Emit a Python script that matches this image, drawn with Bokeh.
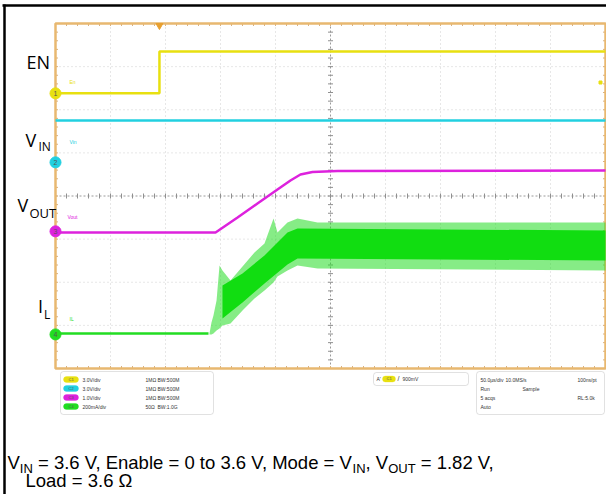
from bokeh.plotting import figure
from bokeh.models import Range1d, Label, BoxAnnotation
from bokeh.embed import file_html
from bokeh.resources import INLINE

# ---------------- data (time in µs, 50 µs/div; amplitude in screen divisions 0..8) -------------
en_t = [0, 94.5, 94.5, 500]
en_v = [6.38, 6.38, 7.35, 7.35]

vin_t = [0, 500]
vin_v = [5.75, 5.75]

vout_t = [0, 145.5, 165.5, 183.6, 201.8, 213.6, 222.7, 233.6, 256.4, 500]
vout_v = [3.154, 3.154, 3.501, 3.826, 4.151, 4.359, 4.499, 4.557, 4.580, 4.591]

il_t = [0, 139.1]
il_v = [0.812, 0.812]
il_band_t = [140.0, 141.8, 143.6, 146.4, 149.1, 151.8, 159.1, 170.0, 180.9, 190.0, 198.2, 201.8, 210.9, 220.0, 238.2, 500]
il_band_hi = [0.812, 1.067, 1.229, 1.577, 2.388, 2.272, 2.041, 2.365, 2.690, 2.899, 3.478, 3.154, 3.386, 3.478, 3.386, 3.386]
il_band_lo = [0.788, 0.788, 0.812, 0.881, 0.928, 0.997, 1.043, 1.345, 1.623, 1.809, 1.994, 2.133, 2.272, 2.388, 2.319, 2.272]
il_core_t = [151.8, 170.0, 190.0, 210.9, 220.0, 500]
il_core_hi = [1.925, 2.203, 2.620, 3.154, 3.246, 3.200]
il_core_lo = [1.159, 1.530, 1.971, 2.412, 2.551, 2.504]

gnd_v = [6.38, 4.78, 3.18, 0.79]
ch_colors = ["#e8e010", "#22d0e0", "#dd22dd", "#22dd22"]
ch_names = ["1", "2", "3", "4"]
ch_tags = ["En", "Vin", "Vout", "IL"]
ch_scale = ["3.0V/div", "3.0V/div", "1.0V/div", "200mA/div"]
ch_imp = ["1MΩ", "1MΩ", "1MΩ", "50Ω"]
ch_bw = ["BW:500M", "BW:500M", "BW:500M", "BW:1.0G"]
trig_text = "900mV"
acq_rows = [["50.0µs/div", "10.0MS/s", "100ns/pt"], ["Run", "Sample", ""], ["5 acqs", "", "RL:5.0k"], ["Auto", "", ""]]

# ---------------- geometry helpers (reference pixel -> data units) ----------------
OX = 3  # horizontal shift so the whole scope frame fits in the 606 px figure

def X(xr):
    return (xr - 58) / 55 * 50

def Y(yr):
    return (368 - yr) / 43.125

p = figure(width=606, height=494, output_backend="svg", toolbar_location=None,
           x_range=Range1d(X(OX), X(OX + 606)), y_range=Range1d(Y(494), Y(0)),
           x_axis_location=None, y_axis_location=None, min_border=0,
           outline_line_color=None, background_fill_color="white")
p.xgrid.visible = False
p.ygrid.visible = False

# outer black frame lines (top and left)
p.segment(x0=[X(5), X(7)], y0=[Y(5), Y(4)], x1=[X(620), X(7)], y1=[Y(5), Y(500)],
          line_color="black", line_width=2.5)

# ---------------- scope graticule ----------------
gx = [50 * i for i in range(1, 10) if i != 5]
gy = [i for i in range(1, 8) if i != 4]
p.segment(x0=gx, y0=[0] * len(gx), x1=gx, y1=[8] * len(gx), line_color="#cfcfcf", line_dash="1 3", line_width=1)
p.segment(x0=[0] * len(gy), y0=gy, x1=[500] * len(gy), y1=gy, line_color="#cfcfcf", line_dash="1 3", line_width=1)
p.segment(x0=[250, 0], y0=[0, 4], x1=[250, 500], y1=[8, 4], line_color="#9a9a9a", line_dash="2 2", line_width=1)

tx = [10 * i for i in range(1, 50)]
ty = [0.2 * i for i in range(1, 40)]
dxp = 2.5 / 55 * 50
dyp = 2.5 / 43.125
# ticks on centre lines
p.segment(x0=tx, y0=[4 - dyp] * len(tx), x1=tx, y1=[4 + dyp] * len(tx), line_color="#909090", line_width=1)
p.segment(x0=[250 - dxp] * len(ty), y0=ty, x1=[250 + dxp] * len(ty), y1=ty, line_color="#909090", line_width=1)
# ticks on frame edges
p.segment(x0=tx, y0=[8] * len(tx), x1=tx, y1=[8 - dyp] * len(tx), line_color="#d8b080", line_width=1)
p.segment(x0=tx, y0=[0] * len(tx), x1=tx, y1=[dyp] * len(tx), line_color="#d8b080", line_width=1)
p.segment(x0=[0] * len(ty), y0=ty, x1=[dxp] * len(ty), y1=ty, line_color="#d8b080", line_width=1)
p.segment(x0=[500] * len(ty), y0=ty, x1=[500 - dxp] * len(ty), y1=ty, line_color="#d8b080", line_width=1)
p.quad(left=[0], right=[500], bottom=[0], top=[8], fill_color=None, line_color="#e8b870", line_width=2.5)

# ---------------- traces ----------------
p.varea(x=il_band_t, y1=il_band_lo, y2=il_band_hi, fill_color="#22dd22", fill_alpha=0.55)
p.varea(x=il_core_t, y1=il_core_lo, y2=il_core_hi, fill_color="#11dd11", fill_alpha=1.0)
p.line(il_t, il_v, line_color=ch_colors[3], line_width=2.5)
p.line(vout_t, vout_v, line_color=ch_colors[2], line_width=2.5)
p.line(vin_t, vin_v, line_color=ch_colors[1], line_width=2.5)
p.line(en_t, en_v, line_color=ch_colors[0], line_width=2.5)

# ground markers
p.scatter(x=[0] * 4, y=gnd_v, size=11, fill_color=ch_colors, line_color=ch_colors, marker="circle")
for v, n in zip(gnd_v, ch_names):
    p.add_layout(Label(x=0, y=v, text=n, text_font="Liberation Sans", text_font_size="7px",
                       text_color="#555555", text_align="center", text_baseline="middle"))
# small tags near markers
tag_pos = [(72, 81), (72, 141), (70, 216), (72, 318)]
for (xr, yr), tg, c in zip(tag_pos, ch_tags, ch_colors):
    p.add_layout(Label(x=X(xr), y=Y(yr), text=tg, text_font="Liberation Sans", text_font_size="5px",
                       text_color=c, text_baseline="middle"))

# trigger markers
p.scatter(x=[en_t[1]], y=[Y(25)], marker="inverted_triangle", size=7, color="#e8a030")
p.scatter(x=[X(603)], y=[Y(82)], marker="square", size=3, color=ch_colors[0])

# ---------------- text helper (yr = wanted baseline in reference pixels) ----------------
LF = "Open Sans"
KOFF = {"Open Sans": 0.48, "Liberation Sans": 0.39}
def lab(xr, yr, t, size, color="black", font=LF, align="left"):
    px = float(size.replace("px", ""))
    p.add_layout(Label(x=X(xr), y=Y(yr - KOFF[font] * px), text=t, text_font=font, text_font_size=size,
                       text_color=color, text_baseline="alphabetic", text_align=align))

lab(29, 70, "EN", "18px")
lab(28, 148, "V", "18px")
lab(41, 151.5, "IN", "12px")
lab(20, 213, "V", "18px")
lab(32, 219, "OUT", "13px")
lab(40.5, 314, "I", "18px")
lab(46.5, 319.5, "L", "12px")

# ---------------- info boxes ----------------
def box(l, r, t, b, col="white", line="#9a9a9a", rad=3, lw=1):
    p.add_layout(BoxAnnotation(left=X(l), right=X(r), top=Y(t), bottom=Y(b), fill_color=col, fill_alpha=1,
                               line_color=line, line_width=lw, border_radius=rad))

box(63, 216, 371, 414)
box(376, 471, 372, 385)
box(479, 607, 371, 414)
rows = [379, 388, 397, 406]
for i, yr in enumerate(rows):
    box(66, 81, yr - 3, yr + 3, col=ch_colors[i], line=ch_colors[i], rad=3)
    lab(71, yr + 1.5, "C" + ch_names[i], "4px", color="#555555", font="Liberation Sans")
    lab(85, yr + 2, ch_scale[i], "5px", color="#333333", font="Liberation Sans")
    lab(148, yr + 2, ch_imp[i], "5px", color="#333333", font="Liberation Sans")
    lab(160, yr + 2, ch_bw[i], "5px", color="#333333", font="Liberation Sans")
box(385, 398, 375.5, 381.5, col=ch_colors[0], line=ch_colors[0], rad=3)
lab(379, 380.5, "A'", "5px", color="#333333", font="Liberation Sans")
lab(389, 380, "C1", "4px", color="#555555", font="Liberation Sans")
lab(400, 381, "/", "7px", color="#333333", font="Liberation Sans")
lab(405, 380.5, trig_text, "5px", color="#333333", font="Liberation Sans")
cols = [483, 508, 580]
for yr, row in zip(rows, acq_rows):
    for xr, t in zip(cols, row):
        if t:
            lab(xr if t != "Sample" else 525, yr + 2, t, "5px", color="#333333", font="Liberation Sans")

# ---------------- caption (Arial metrics for run placement) ----------------
AW = {' ': 278, ',': 278, '.': 278, '=': 584, 'V': 667, 'I': 278, 'N': 722, 'O': 778, 'U': 722, 'T': 611,
      'E': 667, 'n': 556, 'a': 556, 'b': 556, 'l': 222, 'e': 556, 't': 278, 'o': 556, 'M': 833, 'd': 556,
      'L': 556, 'Ω': 768}
KERN = {("V", ","): -74}
def tw(s, px):
    w = sum(AW.get(c, 556) for c in s)
    w += sum(KERN.get((a, b), 0) for a, b in zip(s, s[1:]))
    return w * px / 1000.0

def runs(x0, base, parts, main=18.5, sub=13):
    x = x0
    for t, is_sub in parts:
        size = sub if is_sub else main
        stripped = t.lstrip(" ")
        x += tw(t[:len(t) - len(stripped)], size)
        lab(x, base + (4 if is_sub else 0), stripped, "%gpx" % size, font="Liberation Sans")
        x += tw(stripped, size)

runs(10, 469, [("V", False), ("IN", True), (" = 3.6 V, Enable = 0 to 3.6 V, Mode = V", False), ("IN", True),
               (", V", False), ("OUT", True), (" = 1.82 V,", False)])
runs(28, 487, [("Load = 3.6 Ω", False)])

open("out.html", "w").write(file_html(p, INLINE))
